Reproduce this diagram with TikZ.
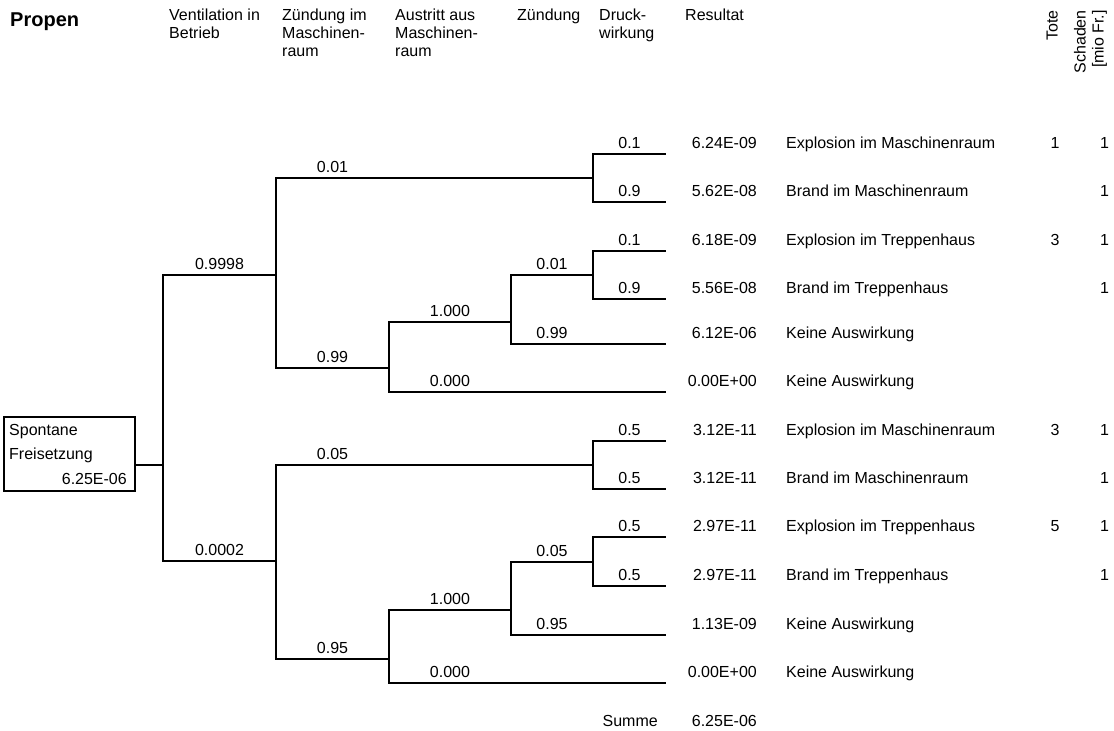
\documentclass[tikz,border=0pt]{standalone}
\usepackage{fontspec}
\setmainfont{Liberation Sans}
\begin{document}
\begin{tikzpicture}[x=1pt,y=-1pt,
  every node/.style={inner sep=0pt,font=\fontsize{16}{18}\selectfont},
  branch/.style={line width=1.5pt},
  lbl/.style={anchor=base},
  val/.style={anchor=base east},
  desc/.style={anchor=base west},
  hdr/.style={anchor=base west},
  num/.style={anchor=base},
  vhdr/.style={anchor=base east,rotate=90}]
\useasboundingbox (0,0) rectangle (1114,731);

% headers
\node[hdr,font=\fontsize{20}{24}\selectfont\bfseries] (title) at (10,26) {Propen};
\node[hdr] (h1a) at (169,20.5) {Ventilation in};
\node[hdr] (h1b) at (169,38.5) {Betrieb};
\node[hdr] (h2a) at (282,20.5) {Zündung im};
\node[hdr] (h2b) at (282,38.5) {Maschinen-};
\node[hdr] (h2c) at (282,56.5) {raum};
\node[hdr] (h3a) at (395,20.5) {Austritt aus};
\node[hdr] (h3b) at (395,38.5) {Maschinen-};
\node[hdr] (h3c) at (395,56.5) {raum};
\node[hdr] (h4a) at (517,20.5) {Zündung};
\node[hdr] (h5a) at (599,20.5) {Druck-};
\node[hdr] (h5b) at (599,38.5) {wirkung};
\node[hdr] (h6a) at (685,20.5) {Resultat};
\node[vhdr] (h7a) at (1057.5,10) {Tote};
\node[vhdr] (h8a) at (1085.5,10) {Schaden};
\node[vhdr] (h8b) at (1103.5,10) {[mio Fr.]};

% root box
\node[draw,line width=1.5pt,minimum width=131pt,minimum height=74pt,anchor=north west] (root) at (3,416) {};
\node[anchor=base west] (rt1) at (9,435.5) {Spontane};
\node[anchor=base west] (rt2) at (9,459) {Freisetzung};
\node[anchor=base east] (rt3) at (127,484) {6.25E-06};

% tree points
\coordinate (F0) at (163,465);
\coordinate (A) at (276,275);
\coordinate (B) at (276,561);
\coordinate (A1) at (593,178);
\coordinate (A2) at (389,368);
\coordinate (A11) at (666,154);
\coordinate (A12) at (666,202);
\coordinate (A21) at (511,322);
\coordinate (A22) at (666,392);
\coordinate (A211) at (593,275);
\coordinate (A212) at (666,344);
\coordinate (A2111) at (666,251);
\coordinate (A2112) at (666,299);
\coordinate (B1) at (593,465);
\coordinate (B2) at (389,659);
\coordinate (B11) at (666,441);
\coordinate (B12) at (666,489);
\coordinate (B21) at (511,610);
\coordinate (B22) at (666,683);
\coordinate (B211) at (593,562);
\coordinate (B212) at (666,635);
\coordinate (B2111) at (666,537);
\coordinate (B2112) at (666,586);

\draw[branch] (root.east |- F0) -- (F0);
\draw[branch] (F0) |- (A);
\draw[branch] (F0) |- (B);
\draw[branch] (A) |- (A1);
\draw[branch] (A) |- (A2);
\draw[branch] (A1) |- (A11);
\draw[branch] (A1) |- (A12);
\draw[branch] (A2) |- (A21);
\draw[branch] (A2) |- (A22);
\draw[branch] (A21) |- (A211);
\draw[branch] (A21) |- (A212);
\draw[branch] (A211) |- (A2111);
\draw[branch] (A211) |- (A2112);
\draw[branch] (B) |- (B1);
\draw[branch] (B) |- (B2);
\draw[branch] (B1) |- (B11);
\draw[branch] (B1) |- (B12);
\draw[branch] (B2) |- (B21);
\draw[branch] (B2) |- (B22);
\draw[branch] (B21) |- (B211);
\draw[branch] (B21) |- (B212);
\draw[branch] (B211) |- (B2111);
\draw[branch] (B211) |- (B2112);

% branch labels
\node[lbl] (lA) at (219.5,269) {0.9998};
\node[lbl] (lB) at (219.5,555) {0.0002};
\node[lbl] (lA1) at (332.5,172) {0.01};
\node[lbl] (lA2) at (332.5,362) {0.99};
\node[lbl] (lA11) at (629.5,148) {0.1};
\node[lbl] (lA12) at (629.5,196) {0.9};
\node[lbl] (lA21) at (450,316) {1.000};
\node[lbl] (lA22) at (450,386) {0.000};
\node[lbl] (lA211) at (552,269) {0.01};
\node[lbl] (lA212) at (552,338) {0.99};
\node[lbl] (lA2111) at (629.5,245) {0.1};
\node[lbl] (lA2112) at (629.5,293) {0.9};
\node[lbl] (lB1) at (332.5,459) {0.05};
\node[lbl] (lB2) at (332.5,653) {0.95};
\node[lbl] (lB11) at (629.5,435) {0.5};
\node[lbl] (lB12) at (629.5,483) {0.5};
\node[lbl] (lB21) at (450,604) {1.000};
\node[lbl] (lB22) at (450,677) {0.000};
\node[lbl] (lB211) at (552,556) {0.05};
\node[lbl] (lB212) at (552,629) {0.95};
\node[lbl] (lB2111) at (629.5,531) {0.5};
\node[lbl] (lB2112) at (629.5,580) {0.5};

% results
\node[val] (v1) at (757,148) {6.24E-09};
\node[val] (v2) at (757,196) {5.62E-08};
\node[val] (v3) at (757,245) {6.18E-09};
\node[val] (v4) at (757,293) {5.56E-08};
\node[val] (v5) at (757,338) {6.12E-06};
\node[val] (v6) at (757,386) {0.00E+00};
\node[val] (v7) at (757,435) {3.12E-11};
\node[val] (v8) at (757,483) {3.12E-11};
\node[val] (v9) at (757,531) {2.97E-11};
\node[val] (v10) at (757,580) {2.97E-11};
\node[val] (v11) at (757,629) {1.13E-09};
\node[val] (v12) at (757,677) {0.00E+00};
\node[val] (sumv) at (757,726) {6.25E-06};
\node[val] (sumt) at (658,726) {Summe};

\node[desc] (d1) at (786,148) {Explosion im Maschinenraum};
\node[desc] (d2) at (786,196) {Brand im Maschinenraum};
\node[desc] (d3) at (786,245) {Explosion im Treppenhaus};
\node[desc] (d4) at (786,293) {Brand im Treppenhaus};
\node[desc] (d5) at (786,338) {Keine Auswirkung};
\node[desc] (d6) at (786,386) {Keine Auswirkung};
\node[desc] (d7) at (786,435) {Explosion im Maschinenraum};
\node[desc] (d8) at (786,483) {Brand im Maschinenraum};
\node[desc] (d9) at (786,531) {Explosion im Treppenhaus};
\node[desc] (d10) at (786,580) {Brand im Treppenhaus};
\node[desc] (d11) at (786,629) {Keine Auswirkung};
\node[desc] (d12) at (786,677) {Keine Auswirkung};

\node[num] (t1) at (1055,148) {1};
\node[num] (t3) at (1055,245) {3};
\node[num] (t7) at (1055,435) {3};
\node[num] (t9) at (1055,531) {5};
\node[num] (s1) at (1104.5,148) {1};
\node[num] (s2) at (1104.5,196) {1};
\node[num] (s3) at (1104.5,245) {1};
\node[num] (s4) at (1104.5,293) {1};
\node[num] (s7) at (1104.5,435) {1};
\node[num] (s8) at (1104.5,483) {1};
\node[num] (s9) at (1104.5,531) {1};
\node[num] (s10) at (1104.5,580) {1};
\end{tikzpicture}
\end{document}
